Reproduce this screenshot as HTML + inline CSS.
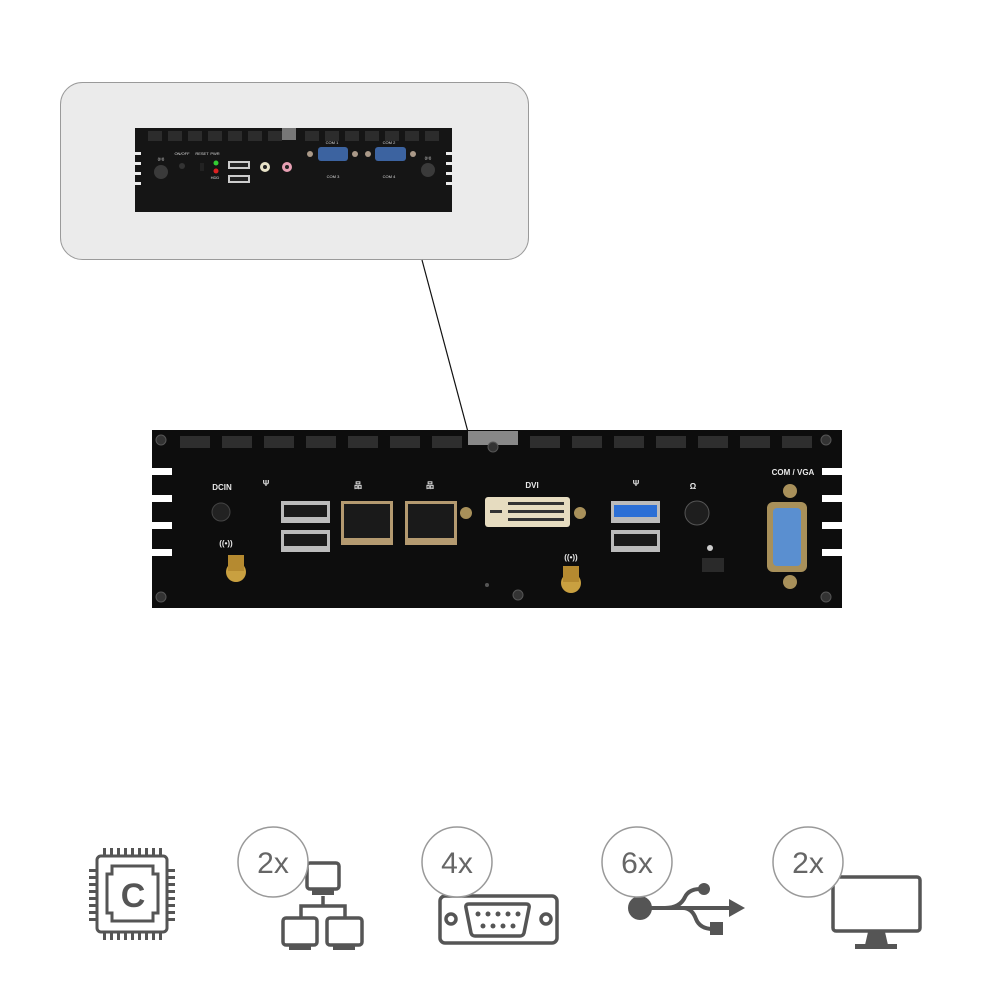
<!DOCTYPE html>
<html><head><meta charset="utf-8"><style>
html,body{margin:0;padding:0;background:#fff;}
svg{display:block;font-family:"Liberation Sans",sans-serif;}
</style></head><body>
<svg width="1000" height="1000" viewBox="0 0 1000 1000" xmlns="http://www.w3.org/2000/svg">
<!-- top panel -->
<rect x="60.5" y="82.5" width="468" height="177" rx="22" fill="#ebebeb" stroke="#9a9a9a"/>
<line x1="422" y1="260" x2="468" y2="432" stroke="#111" stroke-width="1.2"/>
<!-- small device -->
<g>
<rect x="135" y="128" width="317" height="84" fill="#151515"/>
<g fill="#2c2c2c">
<rect x="148" y="131" width="14" height="10"/><rect x="168" y="131" width="14" height="10"/><rect x="188" y="131" width="14" height="10"/><rect x="208" y="131" width="14" height="10"/><rect x="228" y="131" width="14" height="10"/><rect x="248" y="131" width="14" height="10"/><rect x="268" y="131" width="14" height="10"/>
<rect x="305" y="131" width="14" height="10"/><rect x="325" y="131" width="14" height="10"/><rect x="345" y="131" width="14" height="10"/><rect x="365" y="131" width="14" height="10"/><rect x="385" y="131" width="14" height="10"/><rect x="405" y="131" width="14" height="10"/><rect x="425" y="131" width="14" height="10"/>
</g>
<rect x="282" y="128" width="14" height="12" fill="#777"/>
<g fill="#ebebeb"><rect x="135" y="152" width="6" height="3"/><rect x="135" y="162" width="6" height="3"/><rect x="135" y="172" width="6" height="3"/><rect x="135" y="182" width="6" height="3"/><rect x="446" y="152" width="6" height="3"/><rect x="446" y="162" width="6" height="3"/><rect x="446" y="172" width="6" height="3"/><rect x="446" y="182" width="6" height="3"/></g>
<circle cx="161" cy="172" r="7" fill="#3a3a3a"/><circle cx="428" cy="170" r="7" fill="#3a3a3a"/>
<g fill="#ddd" font-size="4" text-anchor="middle"><text x="161" y="160">((•))</text><text x="428" y="159">((•))</text><text x="182" y="155">ON/OFF</text><text x="202" y="155">RESET</text><text x="215" y="155">PWR</text><text x="215" y="179">HDD</text><text x="332" y="144">COM 1</text><text x="389" y="144">COM 2</text><text x="333" y="178">COM 3</text><text x="389" y="178">COM 4</text></g>
<circle cx="182" cy="166" r="3" fill="#333"/>
<rect x="200" y="163" width="4" height="8" fill="#222"/>
<circle cx="216" cy="163" r="2.5" fill="#3c3"/><circle cx="216" cy="171" r="2.5" fill="#d22"/>
<rect x="228" y="161" width="22" height="8" fill="#ccc"/><rect x="230" y="163" width="18" height="4" fill="#222"/>
<rect x="228" y="175" width="22" height="8" fill="#ccc"/><rect x="230" y="177" width="18" height="4" fill="#222"/>
<circle cx="265" cy="167" r="5" fill="#e8e3c8"/><circle cx="265" cy="167" r="2" fill="#222"/>
<circle cx="287" cy="167" r="5" fill="#e8a0b4"/><circle cx="287" cy="167" r="2" fill="#222"/>
<circle cx="310" cy="154" r="3" fill="#a98"/><circle cx="355" cy="154" r="3" fill="#a98"/>
<rect x="318" y="147" width="30" height="14" rx="3" fill="#3c63a0"/>
<circle cx="368" cy="154" r="3" fill="#a98"/><circle cx="413" cy="154" r="3" fill="#a98"/>
<rect x="375" y="147" width="31" height="14" rx="3" fill="#3c63a0"/>
</g>

<!-- main device -->
<g>
<rect x="152" y="430" width="690" height="178" fill="#0d0d0d"/>
<g fill="#2e2e2e">
<rect x="180" y="436" width="30" height="12"/><rect x="222" y="436" width="30" height="12"/><rect x="264" y="436" width="30" height="12"/><rect x="306" y="436" width="30" height="12"/><rect x="348" y="436" width="30" height="12"/><rect x="390" y="436" width="30" height="12"/><rect x="432" y="436" width="30" height="12"/>
<rect x="530" y="436" width="30" height="12"/><rect x="572" y="436" width="30" height="12"/><rect x="614" y="436" width="30" height="12"/><rect x="656" y="436" width="30" height="12"/><rect x="698" y="436" width="30" height="12"/><rect x="740" y="436" width="30" height="12"/><rect x="782" y="436" width="30" height="12"/>
</g>
<rect x="468" y="431" width="50" height="14" fill="#888"/>
<g fill="#fff">
<rect x="152" y="468" width="20" height="7"/><rect x="152" y="495" width="20" height="7"/><rect x="152" y="522" width="20" height="7"/><rect x="152" y="549" width="20" height="7"/>
<rect x="822" y="468" width="20" height="7"/><rect x="822" y="495" width="20" height="7"/><rect x="822" y="522" width="20" height="7"/><rect x="822" y="549" width="20" height="7"/>
</g>
<g fill="#333" stroke="#555"><circle cx="161" cy="440" r="5"/><circle cx="826" cy="440" r="5"/><circle cx="161" cy="597" r="5"/><circle cx="826" cy="597" r="5"/><circle cx="493" cy="447" r="5"/><circle cx="518" cy="595" r="5"/></g>
<g fill="#e8e8e8" font-size="8" font-weight="bold" text-anchor="middle"><text x="222" y="490">DCIN</text><text x="532" y="488">DVI</text><text x="793" y="475">COM / VGA</text><text x="266" y="486">Ψ</text><text x="636" y="486">Ψ</text><text x="358" y="488">品</text><text x="430" y="488">品</text><text x="693" y="489">Ω</text><text x="226" y="546">((•))</text><text x="571" y="560">((•))</text></g>
<circle cx="221" cy="512" r="9" fill="#222" stroke="#444"/>
<circle cx="236" cy="572" r="10" fill="#c9a040"/><rect x="228" y="555" width="16" height="16" fill="#b58a30"/>
<circle cx="571" cy="583" r="10" fill="#c9a040"/><rect x="563" y="566" width="16" height="16" fill="#b58a30"/>
<rect x="281" y="501" width="49" height="22" fill="#bbb"/><rect x="284" y="505" width="43" height="12" fill="#1a1a1a"/>
<rect x="281" y="530" width="49" height="22" fill="#bbb"/><rect x="284" y="534" width="43" height="12" fill="#1a1a1a"/>
<rect x="341" y="501" width="52" height="44" fill="#b49a70"/><rect x="344" y="504" width="46" height="34" fill="#1a1a1a"/>
<rect x="405" y="501" width="52" height="44" fill="#b49a70"/><rect x="408" y="504" width="46" height="34" fill="#1a1a1a"/>
<circle cx="466" cy="513" r="6" fill="#a8905a"/><circle cx="580" cy="513" r="6" fill="#a8905a"/>
<rect x="485" y="497" width="85" height="30" rx="3" fill="#e6dcc0"/>
<g fill="#333"><rect x="490" y="510" width="12" height="3"/><rect x="508" y="502" width="56" height="3"/><rect x="508" y="510" width="56" height="3"/><rect x="508" y="518" width="56" height="3"/></g>
<rect x="611" y="501" width="49" height="22" fill="#bbb"/><rect x="614" y="505" width="43" height="12" fill="#2b6fd6"/>
<rect x="611" y="530" width="49" height="22" fill="#bbb"/><rect x="614" y="534" width="43" height="12" fill="#1a1a1a"/>
<circle cx="697" cy="513" r="12" fill="#1e1e1e" stroke="#555"/>
<rect x="702" y="558" width="22" height="14" fill="#2a2a2a"/>
<circle cx="710" cy="548" r="3" fill="#ccc"/>
<circle cx="790" cy="491" r="7" fill="#a8905a"/><circle cx="790" cy="582" r="7" fill="#a8905a"/>
<rect x="767" y="502" width="40" height="70" rx="6" fill="#a8905a"/>
<rect x="773" y="508" width="28" height="58" rx="4" fill="#5a8fd0"/>
<circle cx="487" cy="585" r="2" fill="#555"/>
</g>

<!-- bottom icons -->
<g stroke="#555" fill="none" stroke-width="3">
<rect x="97" y="856" width="70" height="76" rx="4"/>
<path d="M112 866 H153 V874 H158 V913 H153 V921 H112 V913 H107 V874 H112 Z"/>
</g>
<g fill="#555">
<rect x="103" y="848" width="3" height="7"/><rect x="110" y="848" width="3" height="7"/><rect x="117" y="848" width="3" height="7"/><rect x="124" y="848" width="3" height="7"/><rect x="131" y="848" width="3" height="7"/><rect x="138" y="848" width="3" height="7"/><rect x="145" y="848" width="3" height="7"/><rect x="152" y="848" width="3" height="7"/><rect x="159" y="848" width="3" height="7"/>
<rect x="103" y="933" width="3" height="7"/><rect x="110" y="933" width="3" height="7"/><rect x="117" y="933" width="3" height="7"/><rect x="124" y="933" width="3" height="7"/><rect x="131" y="933" width="3" height="7"/><rect x="138" y="933" width="3" height="7"/><rect x="145" y="933" width="3" height="7"/><rect x="152" y="933" width="3" height="7"/><rect x="159" y="933" width="3" height="7"/>
<rect x="89" y="869" width="7" height="3"/><rect x="89" y="876" width="7" height="3"/><rect x="89" y="883" width="7" height="3"/><rect x="89" y="890" width="7" height="3"/><rect x="89" y="897" width="7" height="3"/><rect x="89" y="904" width="7" height="3"/><rect x="89" y="911" width="7" height="3"/><rect x="89" y="918" width="7" height="3"/>
<rect x="168" y="869" width="7" height="3"/><rect x="168" y="876" width="7" height="3"/><rect x="168" y="883" width="7" height="3"/><rect x="168" y="890" width="7" height="3"/><rect x="168" y="897" width="7" height="3"/><rect x="168" y="904" width="7" height="3"/><rect x="168" y="911" width="7" height="3"/><rect x="168" y="918" width="7" height="3"/>
</g>
<text x="133" y="907" font-size="34" font-weight="bold" fill="#555" text-anchor="middle">C</text>

<!-- network -->
<g stroke="#555" fill="none" stroke-width="3.5">
<rect x="307" y="863" width="32" height="26" rx="3"/>
<rect x="283" y="918" width="34" height="27" rx="3"/>
<rect x="327" y="918" width="35" height="27" rx="3"/>
<path d="M323 896 V906 M301 918 V906 H345 V918"/>
</g>
<g fill="#555"><rect x="312" y="890" width="22" height="5"/><rect x="289" y="945" width="22" height="5"/><rect x="333" y="945" width="22" height="5"/></g>

<!-- db9 -->
<g stroke="#555" fill="none" stroke-width="3.5">
<rect x="440" y="896" width="117" height="47" rx="5"/>
<path d="M469 904 H526 Q530 904 529 908 L524 933 Q523 936 520 936 H475 Q472 936 471 933 L466 908 Q465 904 469 904 Z"/>
<circle cx="451" cy="919" r="5"/><circle cx="546" cy="919" r="5"/>
</g>
<g fill="#555"><circle cx="478" cy="914" r="2.5"/><circle cx="488" cy="914" r="2.5"/><circle cx="498" cy="914" r="2.5"/><circle cx="508" cy="914" r="2.5"/><circle cx="518" cy="914" r="2.5"/><circle cx="483" cy="926" r="2.5"/><circle cx="493" cy="926" r="2.5"/><circle cx="503" cy="926" r="2.5"/><circle cx="513" cy="926" r="2.5"/></g>

<!-- usb -->
<g stroke="#555" fill="none" stroke-width="4">
<path d="M640 908 H735"/>
<path d="M665 908 Q680 908 685 897 Q689 889 700 889"/>
<path d="M683 908 Q692 908 696 919 Q700 929 713 929"/>
</g>
<g fill="#555">
<circle cx="640" cy="908" r="12"/><circle cx="704" cy="889" r="6"/>
<rect x="710" y="922" width="13" height="13"/>
<path d="M745 908 L729 899 V917 Z"/>
</g>

<!-- monitor -->
<rect x="833" y="877" width="87" height="54" rx="3" fill="none" stroke="#555" stroke-width="3.5"/>
<path d="M868 932 H885 L888 945 H865 Z" fill="#555"/>
<rect x="855" y="944" width="42" height="5" fill="#555"/>

<!-- count circles -->
<g fill="#fff" stroke="#999" stroke-width="1.5">
<circle cx="273" cy="862" r="35"/><circle cx="457" cy="862" r="35"/><circle cx="637" cy="862" r="35"/><circle cx="808" cy="862" r="35"/>
</g>
<g fill="#666" font-size="30" text-anchor="middle">
<text x="273" y="873">2x</text><text x="457" y="873">4x</text><text x="637" y="873">6x</text><text x="808" y="873">2x</text>
</g>
</svg>
</body></html>
